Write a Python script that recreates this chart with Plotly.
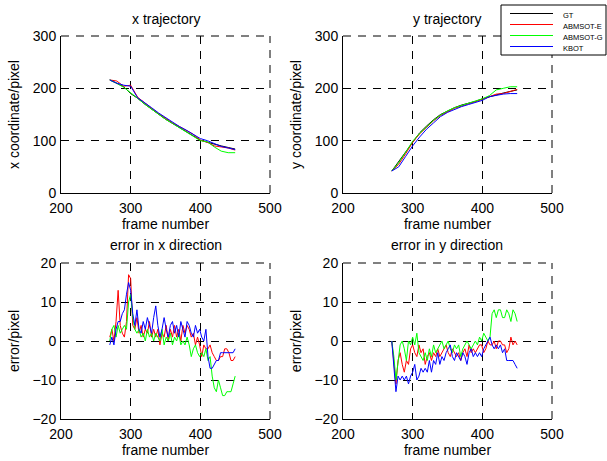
import plotly.graph_objects as go

# trajectories, sampled every 10 frames
traj_frames = [270, 280, 290, 300, 310, 320, 330, 340, 350, 360,
               370, 380, 390, 400, 410, 420, 430, 440, 450]

x_gt = [216, 210, 203, 190, 181, 170, 160, 150, 141, 133, 125, 117, 110, 101, 97, 93, 90, 87, 84]
x_abmsot_e = [216, 214, 204, 206, 183, 172, 162, 152, 143, 134, 127, 119, 112, 101, 97, 90, 88, 86, 82]
x_abmsot_g = [216, 210, 202, 192, 181, 170, 160, 150, 141, 133, 125, 116, 109, 100, 98, 88, 80, 77, 77]
x_kbot = [216, 210, 206, 204, 182, 173, 163, 153, 144, 136, 127, 120, 112, 104, 100, 95, 89, 86, 83]

y_gt = [42, 60, 80, 98, 115, 128, 140, 150, 157, 163, 168, 171, 175, 180, 184, 188, 191, 194, 197]
y_abmsot_e = [42, 55, 75, 97, 113, 126, 138, 148, 155, 162, 166, 170, 174, 179, 184, 189, 190, 194, 198]
y_abmsot_g = [42, 58, 78, 99, 114, 127, 139, 149, 157, 163, 167, 171, 175, 180, 186, 197, 200, 203, 203]
y_kbot = [42, 50, 70, 90, 107, 122, 134, 146, 154, 160, 165, 169, 173, 177, 184, 187, 189, 190, 190]

# errors, sampled every 3 frames (270 .. 450)
err_frames = list(range(270, 451, 3))

ex_abmsot_e = [1, 3, 0, 5, 13, 4, 2, 1, 5, 17, 16, 4, 3, 6, 2, 4, 1, 3, 2, 5,
               1, 3, 1, 3, -1, 2, 1, 4, 0, 3, 1, 4, 1, 3, 0, 4, 2, 4, 3, 1,
               2, -1, 1, -1, -4, -1, -2, -2, -1, -3, -4, -5, -5, -4, -4, -2, -2, -3, -5, -5, -4]
ex_abmsot_g = [0, 3, 4, 1, 4, 2, 3, 4, 3, 10, 12, 6, 3, 2, 3, 1, 2, 0, 3, 1,
               2, 0, 2, 1, 0, 3, -1, 1, 0, 2, -1, 1, 0, 2, -1, 0, -1, 1, -1, -4,
               -2, -1, -3, -4, -3, -4, -2, -5, -4, -9, -12, -13, -10, -12, -14, -14, -13, -13, -13, -11, -9]
ex_kbot = [-1, 1, -1, 3, 5, 5, 7, 8, 12, 15, 13, 7, 4, 8, 3, 2, 5, 3, 6, 4,
           2, 6, 9, 4, 1, 3, 6, 3, 1, 4, 5, 2, 4, 1, 5, 3, 1, 5, 4, 2,
           1, 4, 2, 3, 1, 0, 3, -4, -7, -7, -6, -5, -5, -3, -3, -3, -3, -3, -3, -3, -2]

ey_abmsot_e = [0, -6, -11, -5, -3, -6, -8, -5, -6, -2, -1, -3, -4, -1, -3, -2, -6, -4, -3, -5,
               -3, -4, -2, -4, -3, -2, -1, -3, -4, -2, -3, -4, -3, -5, -3, -2, -4, -1, -3, -2,
               -3, -2, -1, -1, -3, -2, 0, -1, -1, 0, -2, 0, 0, -1, -1, -3, -2, 1, -1, 0, -1]
ey_abmsot_g = [0, -4, -10, -6, -1, 0, -2, -5, 0, -1, 1, -1, 2, -3, -4, -5, -3, -5, -2, -4,
               -1, -3, -2, -1, 0, -2, -1, 0, -2, -3, -1, -2, -1, -4, -2, -1, 0, -1, -2, -1,
               0, -1, 1, 0, 2, 1, 0, 1, 7, 8, 6, 8, 8, 6, 6, 8, 7, 5, 8, 7, 5]
ey_kbot = [0, -7, -13, -9, -10, -9, -10, -9, -11, -9, -8, -6, -10, -9, -7, -8, -7, -8, -5, -8,
           -5, -6, -3, -6, -4, -5, -3, -2, -1, -4, -5, -3, -4, -5, -3, -4, -6, -3, -2, -4,
           -3, -4, -3, -4, -2, -1, 0, 1, -1, -2, -1, -2, -1, -3, -2, -5, -5, -5, -5, -6, -7]

names = ["GT", "ABMSOT-E", "ABMSOT-G", "KBOT"]
colors = {"GT": "#000000", "ABMSOT-E": "#ff0000", "ABMSOT-G": "#00ff00", "KBOT": "#0000ff"}

FONT = "Liberation Sans, Arial, sans-serif"
DASH = "8px,7px"

fig = go.Figure()

panels = [
    ("x", "y", traj_frames, {"GT": x_gt, "ABMSOT-E": x_abmsot_e, "ABMSOT-G": x_abmsot_g, "KBOT": x_kbot}),
    ("x2", "y2", traj_frames, {"GT": y_gt, "ABMSOT-E": y_abmsot_e, "ABMSOT-G": y_abmsot_g, "KBOT": y_kbot}),
    ("x3", "y3", err_frames, {"ABMSOT-E": ex_abmsot_e, "ABMSOT-G": ex_abmsot_g, "KBOT": ex_kbot}),
    ("x4", "y4", err_frames, {"ABMSOT-E": ey_abmsot_e, "ABMSOT-G": ey_abmsot_g, "KBOT": ey_kbot}),
]
for xa, ya, frames, series in panels:
    for name, vals in series.items():
        fig.add_trace(go.Scatter(
            x=frames, y=vals, mode="lines", name=name, xaxis=xa, yaxis=ya,
            line=dict(color=colors[name], width=1), showlegend=False,
        ))

axis_common = dict(
    showline=True, linecolor="black", linewidth=1,
    ticks="inside", ticklen=4, tickcolor="black",
    showgrid=True, gridcolor="black", gridwidth=1, griddash=DASH,
    zeroline=False, automargin=False,
    tickfont=dict(family=FONT, size=14, color="black"),
    title_font=dict(family=FONT, size=14, color="black"),
)

xdom_left = [61 / 607, 270 / 607]
xdom_right = [343 / 607, 552 / 607]
ydom_top = [1 - 193 / 461, 1 - 36 / 461]
ydom_bot = [1 - 419 / 461, 1 - 263 / 461]

layout_axes = {}
shapes = []
for i, (xd, yd, yrange, ydt, ytitle) in enumerate([
    (xdom_left, ydom_top, [0, 300], 100, "x coordinate/pixel"),
    (xdom_right, ydom_top, [0, 300], 100, "y coordinate/pixel"),
    (xdom_left, ydom_bot, [-20, 20], 10, "error/pixel"),
    (xdom_right, ydom_bot, [-20, 20], 10, "error/pixel"),
], start=1):
    sfx = "" if i == 1 else str(i)
    layout_axes["xaxis" + sfx] = dict(
        axis_common, domain=xd, range=[200, 500], dtick=100, tick0=200,
        anchor="y" + sfx, ticklabelstandoff=2,
        title=dict(text="frame number", standoff=4),
    )
    layout_axes["yaxis" + sfx] = dict(
        axis_common, domain=yd, range=yrange, dtick=ydt,
        anchor="x" + sfx, ticklabelstandoff=1,
        title=dict(text=ytitle, standoff=9),
    )
    # matlab-style open box: top and right edges are dashed grid lines
    xr, yr = "x" + sfx + " domain", "y" + sfx + " domain"
    shapes.append(dict(type="line", xref=xr, yref=yr, x0=0, x1=1, y0=1, y1=1,
                       line=dict(color="black", width=1, dash=DASH)))
    shapes.append(dict(type="line", xref=xr, yref=yr, x0=1, x1=1, y0=0, y1=1,
                       line=dict(color="black", width=1, dash=DASH)))

fig.update_layout(**layout_axes)

titles = [
    ("x trajectory", (xdom_left[0] + xdom_left[1]) / 2, 1 - 19 / 461),
    ("y trajectory", (xdom_right[0] + xdom_right[1]) / 2, 1 - 19 / 461),
    ("error in x direction", (xdom_left[0] + xdom_left[1]) / 2, 1 - 245 / 461),
    ("error in y direction", (xdom_right[0] + xdom_right[1]) / 2, 1 - 245 / 461),
]
for text, xc, yc in titles:
    fig.add_annotation(text=text, x=xc, y=yc, xref="paper", yref="paper",
                       showarrow=False, xanchor="center", yanchor="middle",
                       font=dict(family=FONT, size=14, color="black"))

# compact matlab-like legend box (plotly's own legend rows are too tall)
leg_left, leg_right, leg_top, leg_bottom = 501, 606, 5, 55
shapes.append(dict(type="rect", xref="paper", yref="paper",
                   x0=leg_left / 607, x1=leg_right / 607,
                   y0=1 - leg_bottom / 461, y1=1 - leg_top / 461,
                   line=dict(color="black", width=1), fillcolor="white", layer="above"))
for k, name in enumerate(names):
    yl = 13.5 + 11 * k
    shapes.append(dict(type="line", xref="paper", yref="paper",
                       x0=510 / 607, x1=553 / 607, y0=1 - yl / 461, y1=1 - yl / 461,
                       line=dict(color=colors[name], width=1), layer="above"))
    fig.add_annotation(text=name, x=561 / 607, y=1 - (yl + 2) / 461, xref="paper", yref="paper",
                       showarrow=False, xanchor="left", yanchor="middle",
                       font=dict(family=FONT, size=7.5, color="black"))

fig.update_layout(
    width=607, height=461,
    margin=dict(l=0, r=0, t=0, b=0),
    paper_bgcolor="white", plot_bgcolor="white",
    showlegend=False,
    shapes=shapes,
)

# drop the default 8px page margin so the figure fills the window
fig.write_html("out.html", config={"displayModeBar": False},
               post_script="document.body.style.margin='0';")
